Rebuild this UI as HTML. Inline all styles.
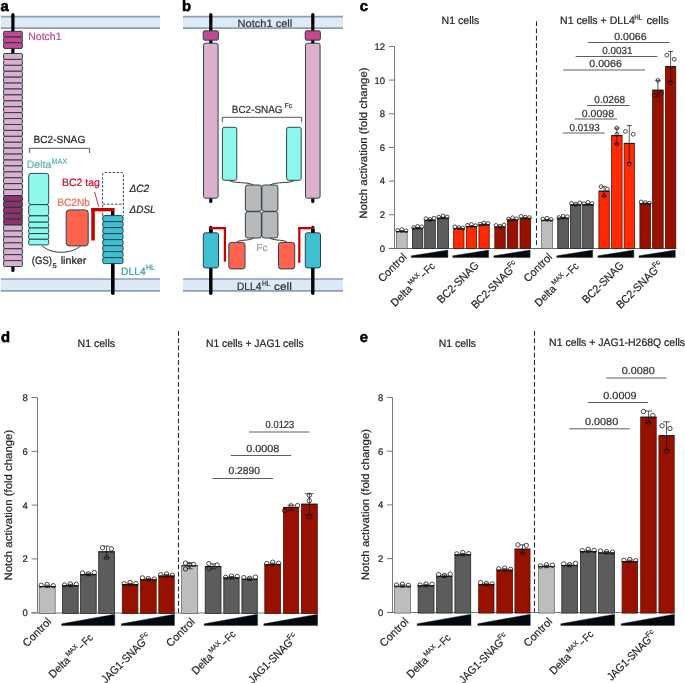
<!DOCTYPE html>
<html><head><meta charset="utf-8"><title>Figure</title>
<style>
html,body{margin:0;padding:0;background:#fff;}
body{width:685px;height:683px;overflow:hidden;}
svg{display:block;font-family:"Liberation Sans", sans-serif;will-change:transform;}
text{font-family:"Liberation Sans", sans-serif;text-rendering:geometricPrecision;}
</style></head>
<body>
<svg width="685" height="683" viewBox="0 0 685 683">
<rect x="0" y="0" width="685" height="683" fill="#fff"/>
<text x="0.60" y="11.00" font-size="14.8" fill="#000" text-anchor="start" font-weight="bold" font-style="normal" stroke="#000" stroke-width="0.6">a</text>
<rect x="0.80" y="16.60" width="159.20" height="11.60" rx="0" fill="#dde9f5" stroke="none" stroke-width="1" />
<line x1="0.80" y1="16.60" x2="160.00" y2="16.60" stroke="#8d9db6" stroke-width="1.7" />
<line x1="0.80" y1="28.20" x2="160.00" y2="28.20" stroke="#8d9db6" stroke-width="1.7" />
<rect x="0.80" y="279.00" width="159.20" height="11.90" rx="0" fill="#dde9f5" stroke="none" stroke-width="1" />
<line x1="0.80" y1="279.00" x2="160.00" y2="279.00" stroke="#8d9db6" stroke-width="1.7" />
<line x1="0.80" y1="290.90" x2="160.00" y2="290.90" stroke="#8d9db6" stroke-width="1.7" />
<line x1="12.90" y1="14.50" x2="12.90" y2="270.50" stroke="#000" stroke-width="3.2" stroke-linecap="round"/>
<rect x="3.60" y="31.30" width="18.80" height="5.72" rx="1.2" fill="#c2488f" stroke="#1b3444" stroke-width="0.9" />
<rect x="3.60" y="37.02" width="18.80" height="5.72" rx="1.2" fill="#c2488f" stroke="#1b3444" stroke-width="0.9" />
<rect x="3.60" y="42.74" width="18.80" height="5.72" rx="1.2" fill="#c2488f" stroke="#1b3444" stroke-width="0.9" />
<rect x="3.60" y="53.50" width="18.80" height="5.92" rx="1.2" fill="#dab0cd" stroke="#1b3444" stroke-width="0.9" />
<rect x="3.60" y="59.42" width="18.80" height="5.92" rx="1.2" fill="#dab0cd" stroke="#1b3444" stroke-width="0.9" />
<rect x="3.60" y="65.33" width="18.80" height="5.92" rx="1.2" fill="#dab0cd" stroke="#1b3444" stroke-width="0.9" />
<rect x="3.60" y="71.25" width="18.80" height="5.92" rx="1.2" fill="#dab0cd" stroke="#1b3444" stroke-width="0.9" />
<rect x="3.60" y="77.17" width="18.80" height="5.92" rx="1.2" fill="#dab0cd" stroke="#1b3444" stroke-width="0.9" />
<rect x="3.60" y="83.08" width="18.80" height="5.92" rx="1.2" fill="#dab0cd" stroke="#1b3444" stroke-width="0.9" />
<rect x="3.60" y="89.00" width="18.80" height="5.92" rx="1.2" fill="#dab0cd" stroke="#1b3444" stroke-width="0.9" />
<rect x="3.60" y="94.92" width="18.80" height="5.92" rx="1.2" fill="#dab0cd" stroke="#1b3444" stroke-width="0.9" />
<rect x="3.60" y="100.83" width="18.80" height="5.92" rx="1.2" fill="#dab0cd" stroke="#1b3444" stroke-width="0.9" />
<rect x="3.60" y="106.75" width="18.80" height="5.92" rx="1.2" fill="#dab0cd" stroke="#1b3444" stroke-width="0.9" />
<rect x="3.60" y="112.67" width="18.80" height="5.92" rx="1.2" fill="#dab0cd" stroke="#1b3444" stroke-width="0.9" />
<rect x="3.60" y="118.58" width="18.80" height="5.92" rx="1.2" fill="#dab0cd" stroke="#1b3444" stroke-width="0.9" />
<rect x="3.60" y="124.50" width="18.80" height="5.92" rx="1.2" fill="#dab0cd" stroke="#1b3444" stroke-width="0.9" />
<rect x="3.60" y="130.42" width="18.80" height="5.92" rx="1.2" fill="#dab0cd" stroke="#1b3444" stroke-width="0.9" />
<rect x="3.60" y="136.33" width="18.80" height="5.92" rx="1.2" fill="#dab0cd" stroke="#1b3444" stroke-width="0.9" />
<rect x="3.60" y="142.25" width="18.80" height="5.92" rx="1.2" fill="#dab0cd" stroke="#1b3444" stroke-width="0.9" />
<rect x="3.60" y="148.17" width="18.80" height="5.92" rx="1.2" fill="#dab0cd" stroke="#1b3444" stroke-width="0.9" />
<rect x="3.60" y="154.08" width="18.80" height="5.92" rx="1.2" fill="#dab0cd" stroke="#1b3444" stroke-width="0.9" />
<rect x="3.60" y="160.00" width="18.80" height="5.92" rx="1.2" fill="#dab0cd" stroke="#1b3444" stroke-width="0.9" />
<rect x="3.60" y="165.92" width="18.80" height="5.92" rx="1.2" fill="#dab0cd" stroke="#1b3444" stroke-width="0.9" />
<rect x="3.60" y="171.83" width="18.80" height="5.92" rx="1.2" fill="#dab0cd" stroke="#1b3444" stroke-width="0.9" />
<rect x="3.60" y="177.75" width="18.80" height="5.92" rx="1.2" fill="#dab0cd" stroke="#1b3444" stroke-width="0.9" />
<rect x="3.60" y="183.67" width="18.80" height="5.92" rx="1.2" fill="#dab0cd" stroke="#1b3444" stroke-width="0.9" />
<rect x="3.60" y="189.58" width="18.80" height="5.92" rx="1.2" fill="#dab0cd" stroke="#1b3444" stroke-width="0.9" />
<rect x="3.60" y="195.50" width="18.80" height="5.92" rx="1.2" fill="#8c3369" stroke="#1b3444" stroke-width="0.9" />
<rect x="3.60" y="201.42" width="18.80" height="5.92" rx="1.2" fill="#8c3369" stroke="#1b3444" stroke-width="0.9" />
<rect x="3.60" y="207.33" width="18.80" height="5.92" rx="1.2" fill="#8c3369" stroke="#1b3444" stroke-width="0.9" />
<rect x="3.60" y="213.25" width="18.80" height="5.92" rx="1.2" fill="#8c3369" stroke="#1b3444" stroke-width="0.9" />
<rect x="3.60" y="219.17" width="18.80" height="5.92" rx="1.2" fill="#8c3369" stroke="#1b3444" stroke-width="0.9" />
<rect x="3.60" y="225.08" width="18.80" height="5.92" rx="1.2" fill="#dab0cd" stroke="#1b3444" stroke-width="0.9" />
<rect x="3.60" y="231.00" width="18.80" height="5.92" rx="1.2" fill="#dab0cd" stroke="#1b3444" stroke-width="0.9" />
<rect x="3.60" y="236.92" width="18.80" height="5.92" rx="1.2" fill="#dab0cd" stroke="#1b3444" stroke-width="0.9" />
<rect x="3.60" y="242.83" width="18.80" height="5.92" rx="1.2" fill="#dab0cd" stroke="#1b3444" stroke-width="0.9" />
<rect x="3.60" y="248.75" width="18.80" height="5.92" rx="1.2" fill="#dab0cd" stroke="#1b3444" stroke-width="0.9" />
<rect x="3.60" y="254.67" width="18.80" height="5.92" rx="1.2" fill="#dab0cd" stroke="#1b3444" stroke-width="0.9" />
<rect x="3.60" y="260.58" width="18.80" height="5.92" rx="1.2" fill="#dab0cd" stroke="#1b3444" stroke-width="0.9" />
<text x="28.30" y="39.80" font-size="10.6" fill="#c2488f" text-anchor="start" font-weight="normal" font-style="normal" textLength="33.20" lengthAdjust="spacingAndGlyphs"  stroke="#c2488f" stroke-width="0.22">Notch1</text>
<text x="33.40" y="142.60" font-size="10.4" fill="#231f20" text-anchor="start" font-weight="normal" font-style="normal" textLength="51.90" lengthAdjust="spacingAndGlyphs"  stroke="#231f20" stroke-width="0.22">BC2-SNAG</text>
<path d="M29.4 153 V148.3 H89.6 V153" fill="none" stroke="#444" stroke-width="0.9"/>
<text x="26.80" y="167.70" font-size="10.6" fill="#5ab5ab" text-anchor="start" font-weight="normal" font-style="normal" textLength="24.40" lengthAdjust="spacingAndGlyphs"  stroke="#5ab5ab" stroke-width="0.22">Delta</text>
<text x="51.60" y="163.70" font-size="8.0" fill="#5ab5ab" text-anchor="start" font-weight="normal" font-style="normal" textLength="15.60" lengthAdjust="spacingAndGlyphs"  stroke="#5ab5ab" stroke-width="0.22">MAX</text>
<rect x="28.70" y="173.40" width="20.00" height="31.20" rx="2.4" fill="#8ef8ec" stroke="#1b3444" stroke-width="0.9" />
<rect x="28.70" y="204.60" width="20.00" height="11.30" rx="2.4" fill="#8ef8ec" stroke="#1b3444" stroke-width="0.9" />
<rect x="28.70" y="215.90" width="20.00" height="6.30" rx="1.4" fill="#8ef8ec" stroke="#1b3444" stroke-width="0.9" />
<rect x="28.70" y="222.20" width="20.00" height="5.80" rx="1.4" fill="#8ef8ec" stroke="#1b3444" stroke-width="0.9" />
<rect x="28.70" y="228.00" width="20.00" height="5.60" rx="1.4" fill="#8ef8ec" stroke="#1b3444" stroke-width="0.9" />
<rect x="28.70" y="233.60" width="20.00" height="5.70" rx="1.4" fill="#8ef8ec" stroke="#1b3444" stroke-width="0.9" />
<rect x="28.70" y="239.30" width="20.00" height="5.60" rx="1.4" fill="#8ef8ec" stroke="#1b3444" stroke-width="0.9" />
<path d="M42 245.5 C50 254, 70 255, 80.8 245.8" fill="none" stroke="#222" stroke-width="0.9"/>
<rect x="66.20" y="209.90" width="22.00" height="36.00" rx="3" fill="#fd6450" stroke="#1b3444" stroke-width="0.9" />
<text x="31.80" y="263.60" font-size="10.6" fill="#231f20" text-anchor="start" font-weight="normal" font-style="normal" textLength="20.20" lengthAdjust="spacingAndGlyphs"  stroke="#231f20" stroke-width="0.22">(GS)</text>
<text x="52.60" y="268.20" font-size="7.0" fill="#231f20" text-anchor="start" font-weight="normal" font-style="normal" textLength="4.20" lengthAdjust="spacingAndGlyphs"  stroke="#231f20" stroke-width="0.22">5</text>
<text x="60.70" y="263.60" font-size="10.6" fill="#231f20" text-anchor="start" font-weight="normal" font-style="normal" textLength="25.60" lengthAdjust="spacingAndGlyphs"  stroke="#231f20" stroke-width="0.22">linker</text>
<text x="61.90" y="186.00" font-size="10.6" fill="#c8102e" text-anchor="start" font-weight="normal" font-style="normal" textLength="38.00" lengthAdjust="spacingAndGlyphs"  stroke="#c8102e" stroke-width="0.22">BC2 tag</text>
<text x="57.20" y="205.60" font-size="10.6" fill="#f86a58" text-anchor="start" font-weight="normal" font-style="normal" textLength="32.80" lengthAdjust="spacingAndGlyphs"  stroke="#f86a58" stroke-width="0.22">BC2Nb</text>
<line x1="94.60" y1="192.00" x2="98.80" y2="206.80" stroke="#c8102e" stroke-width="0.9" />
<path d="M102.6 215.5 V175 Q102.6 172.5 105 172.5 H121 Q123.4 172.5 123.4 175 V215.5" fill="none" stroke="#1b3444" stroke-width="0.9" stroke-dasharray="2.4 1.6"/>
<path d="M103 204.2 H123" fill="none" stroke="#1b3444" stroke-width="0.9" stroke-dasharray="2.4 1.6"/>
<text x="129.60" y="191.70" font-size="10.6" fill="#231f20" text-anchor="start" font-weight="normal" font-style="italic" textLength="19.60" lengthAdjust="spacingAndGlyphs"  stroke="#231f20" stroke-width="0.22">&#916;C2</text>
<text x="129.60" y="213.00" font-size="10.6" fill="#231f20" text-anchor="start" font-weight="normal" font-style="italic" textLength="26.00" lengthAdjust="spacingAndGlyphs"  stroke="#231f20" stroke-width="0.22">&#916;DSL</text>
<rect x="91.30" y="208.00" width="23.30" height="3.30" rx="0" fill="#c80000" stroke="none" stroke-width="1" />
<rect x="91.30" y="208.00" width="3.50" height="32.50" rx="0" fill="#c80000" stroke="none" stroke-width="1" />
<rect x="111.00" y="211.00" width="3.40" height="4.80" rx="0" fill="#000" stroke="none" stroke-width="1" />
<line x1="112.80" y1="262.00" x2="112.80" y2="293.20" stroke="#000" stroke-width="3.6" stroke-linecap="round"/>
<rect x="102.80" y="215.60" width="20.20" height="6.00" rx="1.5" fill="#3fbfcf" stroke="#1b3444" stroke-width="0.9" />
<rect x="102.80" y="221.60" width="20.20" height="6.00" rx="1.5" fill="#3fbfcf" stroke="#1b3444" stroke-width="0.9" />
<rect x="102.80" y="227.60" width="20.20" height="6.00" rx="1.5" fill="#3fbfcf" stroke="#1b3444" stroke-width="0.9" />
<rect x="102.80" y="233.60" width="20.20" height="6.00" rx="1.5" fill="#3fbfcf" stroke="#1b3444" stroke-width="0.9" />
<rect x="102.80" y="239.60" width="20.20" height="6.00" rx="1.5" fill="#3fbfcf" stroke="#1b3444" stroke-width="0.9" />
<rect x="102.80" y="245.60" width="20.20" height="6.00" rx="1.5" fill="#3fbfcf" stroke="#1b3444" stroke-width="0.9" />
<rect x="102.80" y="251.60" width="20.20" height="6.00" rx="1.5" fill="#3fbfcf" stroke="#1b3444" stroke-width="0.9" />
<rect x="102.80" y="257.60" width="20.20" height="6.00" rx="1.5" fill="#3fbfcf" stroke="#1b3444" stroke-width="0.9" />
<text x="121.10" y="274.70" font-size="10.6" fill="#3a9aa8" text-anchor="start" font-weight="normal" font-style="normal" textLength="24.60" lengthAdjust="spacingAndGlyphs"  stroke="#3a9aa8" stroke-width="0.22">DLL4</text>
<text x="145.90" y="270.00" font-size="7.8" fill="#3a9aa8" text-anchor="start" font-weight="normal" font-style="normal" textLength="9.00" lengthAdjust="spacingAndGlyphs"  stroke="#3a9aa8" stroke-width="0.22">HL</text>
<text x="182.00" y="11.00" font-size="14.8" fill="#000" text-anchor="start" font-weight="bold" font-style="normal" stroke="#000" stroke-width="0.6">b</text>
<rect x="183.00" y="16.60" width="160.00" height="11.60" rx="0" fill="#dde9f5" stroke="none" stroke-width="1" />
<line x1="183.00" y1="16.60" x2="343.00" y2="16.60" stroke="#8d9db6" stroke-width="1.7" />
<line x1="183.00" y1="28.20" x2="343.00" y2="28.20" stroke="#8d9db6" stroke-width="1.7" />
<rect x="183.00" y="279.00" width="160.00" height="11.90" rx="0" fill="#dde9f5" stroke="none" stroke-width="1" />
<line x1="183.00" y1="279.00" x2="343.00" y2="279.00" stroke="#8d9db6" stroke-width="1.7" />
<line x1="183.00" y1="290.90" x2="343.00" y2="290.90" stroke="#8d9db6" stroke-width="1.7" />
<text x="237.60" y="26.50" font-size="10.6" fill="#333" text-anchor="start" font-weight="normal" font-style="normal" textLength="54.60" lengthAdjust="spacingAndGlyphs"  stroke="#333" stroke-width="0.22">Notch1 cell</text>
<line x1="210.80" y1="14.50" x2="210.80" y2="201.50" stroke="#000" stroke-width="3.2" stroke-linecap="round"/>
<rect x="203.20" y="30.80" width="15.20" height="9.40" rx="1.6" fill="#c2488f" stroke="#1b3444" stroke-width="0.9" />
<rect x="203.50" y="43.20" width="14.60" height="155.00" rx="2" fill="#dab0cd" stroke="#1b3444" stroke-width="0.9" />
<line x1="312.80" y1="14.50" x2="312.80" y2="201.50" stroke="#000" stroke-width="3.2" stroke-linecap="round"/>
<rect x="305.20" y="30.80" width="15.20" height="9.40" rx="1.6" fill="#c2488f" stroke="#1b3444" stroke-width="0.9" />
<rect x="305.50" y="43.20" width="14.60" height="155.00" rx="2" fill="#dab0cd" stroke="#1b3444" stroke-width="0.9" />
<text x="231.80" y="112.50" font-size="10.4" fill="#333" text-anchor="start" font-weight="normal" font-style="normal" textLength="50.80" lengthAdjust="spacingAndGlyphs"  stroke="#333" stroke-width="0.22">BC2-SNAG</text>
<text x="284.40" y="108.00" font-size="7.2" fill="#333" text-anchor="start" font-weight="normal" font-style="normal" textLength="7.80" lengthAdjust="spacingAndGlyphs"  stroke="#333" stroke-width="0.22">Fc</text>
<path d="M222.4 122.3 V117.3 H301.6 V122.3" fill="none" stroke="#444" stroke-width="0.9"/>
<rect x="222.40" y="127.30" width="14.40" height="53.00" rx="2" fill="#8ef8ec" stroke="#1b3444" stroke-width="0.9" />
<rect x="286.60" y="127.30" width="14.60" height="53.00" rx="2" fill="#8ef8ec" stroke="#1b3444" stroke-width="0.9" />
<path d="M229.5 180.3 C231 183.5, 249 181.5, 253.5 185.2" fill="none" stroke="#222" stroke-width="0.9"/>
<path d="M294 180.3 C292.5 183.5, 274.5 181.5, 270 185.2" fill="none" stroke="#222" stroke-width="0.9"/>
<rect x="245.40" y="185.00" width="16.00" height="26.30" rx="2.4" fill="#b9b9b9" stroke="#1b3444" stroke-width="0.9" />
<rect x="245.40" y="211.70" width="16.00" height="26.30" rx="2.4" fill="#b9b9b9" stroke="#1b3444" stroke-width="0.9" />
<rect x="261.90" y="185.00" width="16.00" height="26.30" rx="2.4" fill="#b9b9b9" stroke="#1b3444" stroke-width="0.9" />
<rect x="261.90" y="211.70" width="16.00" height="26.30" rx="2.4" fill="#b9b9b9" stroke="#1b3444" stroke-width="0.9" />
<path d="M253.5 238.2 C249 241, 238 239.5, 236.5 242.4" fill="none" stroke="#222" stroke-width="0.9"/>
<path d="M270 238.2 C274.5 241, 285.5 239.5, 287 242.4" fill="none" stroke="#222" stroke-width="0.9"/>
<line x1="210.80" y1="227.40" x2="210.80" y2="293.20" stroke="#000" stroke-width="3.4" stroke-linecap="round"/>
<rect x="203.30" y="232.80" width="15.20" height="35.10" rx="2" fill="#3fbfcf" stroke="#1b3444" stroke-width="0.9" />
<line x1="312.80" y1="227.40" x2="312.80" y2="293.20" stroke="#000" stroke-width="3.4" stroke-linecap="round"/>
<rect x="305.30" y="232.80" width="15.20" height="35.10" rx="2" fill="#3fbfcf" stroke="#1b3444" stroke-width="0.9" />
<rect x="209.30" y="227.00" width="16.40" height="2.30" rx="0" fill="#c80000" stroke="none" stroke-width="1" />
<rect x="223.80" y="227.00" width="2.20" height="34.70" rx="0" fill="#c80000" stroke="none" stroke-width="1" />
<rect x="298.20" y="227.00" width="15.80" height="2.30" rx="0" fill="#c80000" stroke="none" stroke-width="1" />
<rect x="298.20" y="227.00" width="2.20" height="35.80" rx="0" fill="#c80000" stroke="none" stroke-width="1" />
<rect x="209.10" y="229.20" width="3.40" height="3.60" rx="0" fill="#000" stroke="none" stroke-width="1" />
<rect x="311.10" y="229.20" width="3.40" height="3.60" rx="0" fill="#000" stroke="none" stroke-width="1" />
<rect x="228.80" y="242.40" width="16.20" height="26.50" rx="2.4" fill="#fd6450" stroke="#1b3444" stroke-width="0.9" />
<rect x="278.50" y="242.40" width="16.20" height="26.50" rx="2.4" fill="#fd6450" stroke="#1b3444" stroke-width="0.9" />
<text x="256.30" y="251.00" font-size="10.0" fill="#9a9a9a" text-anchor="start" font-weight="normal" font-style="normal" textLength="11.20" lengthAdjust="spacingAndGlyphs"  stroke="#9a9a9a" stroke-width="0.22">Fc</text>
<text x="237.00" y="290.30" font-size="10.6" fill="#333" text-anchor="start" font-weight="normal" font-style="normal" textLength="24.40" lengthAdjust="spacingAndGlyphs"  stroke="#333" stroke-width="0.22">DLL4</text>
<text x="262.00" y="285.50" font-size="7.6" fill="#333" text-anchor="start" font-weight="normal" font-style="normal" textLength="8.40" lengthAdjust="spacingAndGlyphs"  stroke="#333" stroke-width="0.22">HL</text>
<text x="274.00" y="290.00" font-size="10.6" fill="#333" text-anchor="start" font-weight="normal" font-style="normal" textLength="17.80" lengthAdjust="spacingAndGlyphs"  stroke="#333" stroke-width="0.22">cell</text>
<text x="359.80" y="11.20" font-size="14.8" fill="#000" text-anchor="start" font-weight="bold" font-style="normal" stroke="#000" stroke-width="0.6">c</text>
<line x1="394.50" y1="46.44" x2="394.50" y2="248.40" stroke="#777" stroke-width="1.0" />
<line x1="388.80" y1="248.40" x2="394.50" y2="248.40" stroke="#777" stroke-width="1.0" />
<text x="385.00" y="251.80" font-size="9.5" fill="#2a2a2a" text-anchor="end" font-weight="normal" font-style="normal"  stroke="#2a2a2a" stroke-width="0.22">0</text>
<line x1="388.80" y1="214.74" x2="394.50" y2="214.74" stroke="#777" stroke-width="1.0" />
<text x="385.00" y="218.14" font-size="9.5" fill="#2a2a2a" text-anchor="end" font-weight="normal" font-style="normal"  stroke="#2a2a2a" stroke-width="0.22">2</text>
<line x1="388.80" y1="181.08" x2="394.50" y2="181.08" stroke="#777" stroke-width="1.0" />
<text x="385.00" y="184.48" font-size="9.5" fill="#2a2a2a" text-anchor="end" font-weight="normal" font-style="normal"  stroke="#2a2a2a" stroke-width="0.22">4</text>
<line x1="388.80" y1="147.42" x2="394.50" y2="147.42" stroke="#777" stroke-width="1.0" />
<text x="385.00" y="150.82" font-size="9.5" fill="#2a2a2a" text-anchor="end" font-weight="normal" font-style="normal"  stroke="#2a2a2a" stroke-width="0.22">6</text>
<line x1="388.80" y1="113.76" x2="394.50" y2="113.76" stroke="#777" stroke-width="1.0" />
<text x="385.00" y="117.16" font-size="9.5" fill="#2a2a2a" text-anchor="end" font-weight="normal" font-style="normal"  stroke="#2a2a2a" stroke-width="0.22">8</text>
<line x1="388.80" y1="80.10" x2="394.50" y2="80.10" stroke="#777" stroke-width="1.0" />
<text x="385.00" y="83.50" font-size="9.5" fill="#2a2a2a" text-anchor="end" font-weight="normal" font-style="normal"  stroke="#2a2a2a" stroke-width="0.22">10</text>
<line x1="388.80" y1="46.44" x2="394.50" y2="46.44" stroke="#777" stroke-width="1.0" />
<text x="385.00" y="49.84" font-size="9.5" fill="#2a2a2a" text-anchor="end" font-weight="normal" font-style="normal"  stroke="#2a2a2a" stroke-width="0.22">12</text>
<text transform="translate(367.10,143.10) rotate(-90)" x="0" y="0" font-size="10.8" fill="#231f20" stroke="#231f20" stroke-width="0.2" text-anchor="middle" textLength="151.30" lengthAdjust="spacingAndGlyphs">Notch activation (fold change)</text>
<line x1="389.30" y1="248.50" x2="676.20" y2="248.50" stroke="#6a6a6a" stroke-width="1.0" />
<line x1="536.50" y1="21.20" x2="536.50" y2="245.20" stroke="#2a2a2a" stroke-width="1.1" stroke-dasharray="4.8 2.5"/>
<text x="460.40" y="24.10" font-size="10.9" fill="#231f20" text-anchor="middle" font-weight="normal" font-style="normal" textLength="37.60" lengthAdjust="spacingAndGlyphs"  stroke="#231f20" stroke-width="0.22">N1 cells</text>
<text x="560.10" y="24.30" font-size="10.9" fill="#231f20" text-anchor="start" font-weight="normal" font-style="normal" textLength="74.80" lengthAdjust="spacingAndGlyphs"  stroke="#231f20" stroke-width="0.22">N1 cells + DLL4</text>
<text x="634.30" y="19.80" font-size="7.6" fill="#231f20" text-anchor="start" font-weight="normal" font-style="normal" textLength="7.90" lengthAdjust="spacingAndGlyphs"  stroke="#231f20" stroke-width="0.22">HL</text>
<text x="646.40" y="24.30" font-size="10.9" fill="#231f20" text-anchor="start" font-weight="normal" font-style="normal" textLength="22.40" lengthAdjust="spacingAndGlyphs"  stroke="#231f20" stroke-width="0.22">cells</text>
<rect x="396.40" y="231.57" width="10.80" height="16.83" rx="0" fill="#bdbdbd" stroke="#6a6a6a" stroke-width="0.8" />
<line x1="396.20" y1="231.57" x2="407.40" y2="231.57" stroke="#111" stroke-width="0.9" />
<rect x="412.40" y="228.20" width="10.40" height="20.20" rx="0" fill="#5c5c5c" stroke="#262626" stroke-width="0.8" />
<line x1="412.20" y1="228.20" x2="423.00" y2="228.20" stroke="#111" stroke-width="0.9" />
<rect x="424.70" y="220.29" width="10.60" height="28.11" rx="0" fill="#5c5c5c" stroke="#262626" stroke-width="0.8" />
<line x1="424.50" y1="220.29" x2="435.50" y2="220.29" stroke="#111" stroke-width="0.9" />
<rect x="437.60" y="218.11" width="10.80" height="30.29" rx="0" fill="#5c5c5c" stroke="#262626" stroke-width="0.8" />
<line x1="437.40" y1="218.11" x2="448.60" y2="218.11" stroke="#111" stroke-width="0.9" />
<rect x="453.70" y="228.71" width="10.30" height="19.69" rx="0" fill="#ff2a00" stroke="#5a1008" stroke-width="0.8" />
<line x1="453.50" y1="228.71" x2="464.20" y2="228.71" stroke="#111" stroke-width="0.9" />
<rect x="466.30" y="226.52" width="10.30" height="21.88" rx="0" fill="#ff2a00" stroke="#5a1008" stroke-width="0.8" />
<line x1="466.10" y1="226.52" x2="476.80" y2="226.52" stroke="#111" stroke-width="0.9" />
<rect x="478.90" y="224.84" width="10.30" height="23.56" rx="0" fill="#ff2a00" stroke="#5a1008" stroke-width="0.8" />
<line x1="478.70" y1="224.84" x2="489.40" y2="224.84" stroke="#111" stroke-width="0.9" />
<rect x="494.80" y="227.03" width="10.40" height="21.37" rx="0" fill="#961100" stroke="#5a1008" stroke-width="0.8" />
<line x1="494.60" y1="227.03" x2="505.40" y2="227.03" stroke="#111" stroke-width="0.9" />
<rect x="507.40" y="219.96" width="10.40" height="28.44" rx="0" fill="#961100" stroke="#5a1008" stroke-width="0.8" />
<line x1="507.20" y1="219.96" x2="518.00" y2="219.96" stroke="#111" stroke-width="0.9" />
<rect x="520.00" y="218.27" width="10.60" height="30.13" rx="0" fill="#961100" stroke="#5a1008" stroke-width="0.8" />
<line x1="519.80" y1="218.27" x2="530.80" y2="218.27" stroke="#111" stroke-width="0.9" />
<rect x="541.60" y="220.29" width="10.80" height="28.11" rx="0" fill="#bdbdbd" stroke="#6a6a6a" stroke-width="0.8" />
<line x1="541.40" y1="220.29" x2="552.60" y2="220.29" stroke="#111" stroke-width="0.9" />
<rect x="557.70" y="218.11" width="10.80" height="30.29" rx="0" fill="#5c5c5c" stroke="#262626" stroke-width="0.8" />
<line x1="557.50" y1="218.11" x2="568.70" y2="218.11" stroke="#111" stroke-width="0.9" />
<rect x="570.40" y="204.98" width="10.50" height="43.42" rx="0" fill="#5c5c5c" stroke="#262626" stroke-width="0.8" />
<line x1="570.20" y1="204.98" x2="581.10" y2="204.98" stroke="#111" stroke-width="0.9" />
<rect x="582.70" y="204.64" width="10.50" height="43.76" rx="0" fill="#5c5c5c" stroke="#262626" stroke-width="0.8" />
<line x1="582.50" y1="204.64" x2="593.40" y2="204.64" stroke="#111" stroke-width="0.9" />
<rect x="598.90" y="191.18" width="10.40" height="57.22" rx="0" fill="#ff2a00" stroke="#5a1008" stroke-width="0.8" />
<line x1="598.70" y1="191.18" x2="609.50" y2="191.18" stroke="#111" stroke-width="0.9" />
<rect x="611.60" y="135.64" width="10.50" height="112.76" rx="0" fill="#ff2a00" stroke="#5a1008" stroke-width="0.8" />
<line x1="611.40" y1="135.64" x2="622.30" y2="135.64" stroke="#111" stroke-width="0.9" />
<rect x="624.10" y="143.38" width="10.30" height="105.02" rx="0" fill="#ff2a00" stroke="#5a1008" stroke-width="0.8" />
<line x1="623.90" y1="143.38" x2="634.60" y2="143.38" stroke="#111" stroke-width="0.9" />
<rect x="639.90" y="203.80" width="10.70" height="44.60" rx="0" fill="#961100" stroke="#5a1008" stroke-width="0.8" />
<line x1="639.70" y1="203.80" x2="650.80" y2="203.80" stroke="#111" stroke-width="0.9" />
<rect x="652.60" y="90.20" width="10.60" height="158.20" rx="0" fill="#961100" stroke="#5a1008" stroke-width="0.8" />
<line x1="652.40" y1="90.20" x2="663.40" y2="90.20" stroke="#111" stroke-width="0.9" />
<rect x="665.40" y="66.64" width="10.40" height="181.76" rx="0" fill="#961100" stroke="#5a1008" stroke-width="0.8" />
<line x1="665.20" y1="66.64" x2="676.00" y2="66.64" stroke="#111" stroke-width="0.9" />
<circle cx="397.62" cy="230.37" r="1.9" fill="none" stroke="#111" stroke-width="0.75"/>
<circle cx="401.80" cy="229.57" r="1.9" fill="none" stroke="#111" stroke-width="0.75"/>
<circle cx="405.98" cy="230.77" r="1.9" fill="none" stroke="#111" stroke-width="0.75"/>
<line x1="401.80" y1="230.73" x2="401.80" y2="232.24" stroke="#111" stroke-width="0.7" />
<line x1="399.83" y1="230.73" x2="403.77" y2="230.73" stroke="#111" stroke-width="0.7" />
<line x1="399.83" y1="232.24" x2="403.77" y2="232.24" stroke="#111" stroke-width="0.7" />
<circle cx="413.57" cy="227.60" r="1.9" fill="none" stroke="#111" stroke-width="0.75"/>
<circle cx="417.60" cy="226.40" r="1.9" fill="none" stroke="#111" stroke-width="0.75"/>
<circle cx="421.63" cy="226.80" r="1.9" fill="none" stroke="#111" stroke-width="0.75"/>
<line x1="417.60" y1="227.36" x2="417.60" y2="228.88" stroke="#111" stroke-width="0.7" />
<line x1="415.70" y1="227.36" x2="419.50" y2="227.36" stroke="#111" stroke-width="0.7" />
<line x1="415.70" y1="228.88" x2="419.50" y2="228.88" stroke="#111" stroke-width="0.7" />
<circle cx="425.90" cy="218.69" r="1.9" fill="none" stroke="#111" stroke-width="0.75"/>
<circle cx="430.00" cy="219.39" r="1.9" fill="none" stroke="#111" stroke-width="0.75"/>
<circle cx="434.10" cy="218.19" r="1.9" fill="none" stroke="#111" stroke-width="0.75"/>
<line x1="430.00" y1="219.45" x2="430.00" y2="220.97" stroke="#111" stroke-width="0.7" />
<line x1="428.06" y1="219.45" x2="431.94" y2="219.45" stroke="#111" stroke-width="0.7" />
<line x1="428.06" y1="220.97" x2="431.94" y2="220.97" stroke="#111" stroke-width="0.7" />
<circle cx="438.82" cy="217.21" r="1.9" fill="none" stroke="#111" stroke-width="0.75"/>
<circle cx="443.00" cy="215.91" r="1.9" fill="none" stroke="#111" stroke-width="0.75"/>
<circle cx="447.18" cy="217.01" r="1.9" fill="none" stroke="#111" stroke-width="0.75"/>
<line x1="443.00" y1="217.26" x2="443.00" y2="218.78" stroke="#111" stroke-width="0.7" />
<line x1="441.03" y1="217.26" x2="444.97" y2="217.26" stroke="#111" stroke-width="0.7" />
<line x1="441.03" y1="218.78" x2="444.97" y2="218.78" stroke="#111" stroke-width="0.7" />
<circle cx="454.85" cy="226.81" r="1.9" fill="none" stroke="#111" stroke-width="0.75"/>
<circle cx="458.85" cy="227.51" r="1.9" fill="none" stroke="#111" stroke-width="0.75"/>
<circle cx="462.85" cy="228.01" r="1.9" fill="none" stroke="#111" stroke-width="0.75"/>
<line x1="458.85" y1="227.87" x2="458.85" y2="229.38" stroke="#111" stroke-width="0.7" />
<line x1="456.96" y1="227.87" x2="460.74" y2="227.87" stroke="#111" stroke-width="0.7" />
<line x1="456.96" y1="229.38" x2="460.74" y2="229.38" stroke="#111" stroke-width="0.7" />
<circle cx="467.45" cy="225.32" r="1.9" fill="none" stroke="#111" stroke-width="0.75"/>
<circle cx="471.45" cy="224.52" r="1.9" fill="none" stroke="#111" stroke-width="0.75"/>
<circle cx="475.45" cy="225.72" r="1.9" fill="none" stroke="#111" stroke-width="0.75"/>
<line x1="471.45" y1="225.68" x2="471.45" y2="227.19" stroke="#111" stroke-width="0.7" />
<line x1="469.56" y1="225.68" x2="473.34" y2="225.68" stroke="#111" stroke-width="0.7" />
<line x1="469.56" y1="227.19" x2="473.34" y2="227.19" stroke="#111" stroke-width="0.7" />
<circle cx="480.05" cy="224.24" r="1.9" fill="none" stroke="#111" stroke-width="0.75"/>
<circle cx="484.05" cy="223.04" r="1.9" fill="none" stroke="#111" stroke-width="0.75"/>
<circle cx="488.05" cy="223.44" r="1.9" fill="none" stroke="#111" stroke-width="0.75"/>
<line x1="484.05" y1="224.00" x2="484.05" y2="225.51" stroke="#111" stroke-width="0.7" />
<line x1="482.16" y1="224.00" x2="485.94" y2="224.00" stroke="#111" stroke-width="0.7" />
<line x1="482.16" y1="225.51" x2="485.94" y2="225.51" stroke="#111" stroke-width="0.7" />
<circle cx="495.97" cy="225.43" r="1.9" fill="none" stroke="#111" stroke-width="0.75"/>
<circle cx="500.00" cy="226.13" r="1.9" fill="none" stroke="#111" stroke-width="0.75"/>
<circle cx="504.03" cy="224.93" r="1.9" fill="none" stroke="#111" stroke-width="0.75"/>
<line x1="500.00" y1="226.18" x2="500.00" y2="227.70" stroke="#111" stroke-width="0.7" />
<line x1="498.10" y1="226.18" x2="501.90" y2="226.18" stroke="#111" stroke-width="0.7" />
<line x1="498.10" y1="227.70" x2="501.90" y2="227.70" stroke="#111" stroke-width="0.7" />
<circle cx="508.57" cy="219.06" r="1.9" fill="none" stroke="#111" stroke-width="0.75"/>
<circle cx="512.60" cy="217.76" r="1.9" fill="none" stroke="#111" stroke-width="0.75"/>
<circle cx="516.63" cy="218.86" r="1.9" fill="none" stroke="#111" stroke-width="0.75"/>
<line x1="512.60" y1="219.12" x2="512.60" y2="220.63" stroke="#111" stroke-width="0.7" />
<line x1="510.70" y1="219.12" x2="514.50" y2="219.12" stroke="#111" stroke-width="0.7" />
<line x1="510.70" y1="220.63" x2="514.50" y2="220.63" stroke="#111" stroke-width="0.7" />
<circle cx="521.20" cy="216.37" r="1.9" fill="none" stroke="#111" stroke-width="0.75"/>
<circle cx="525.30" cy="217.07" r="1.9" fill="none" stroke="#111" stroke-width="0.75"/>
<circle cx="529.40" cy="217.57" r="1.9" fill="none" stroke="#111" stroke-width="0.75"/>
<line x1="525.30" y1="217.43" x2="525.30" y2="218.95" stroke="#111" stroke-width="0.7" />
<line x1="523.36" y1="217.43" x2="527.24" y2="217.43" stroke="#111" stroke-width="0.7" />
<line x1="523.36" y1="218.95" x2="527.24" y2="218.95" stroke="#111" stroke-width="0.7" />
<circle cx="542.82" cy="219.09" r="1.9" fill="none" stroke="#111" stroke-width="0.75"/>
<circle cx="547.00" cy="218.29" r="1.9" fill="none" stroke="#111" stroke-width="0.75"/>
<circle cx="551.18" cy="219.49" r="1.9" fill="none" stroke="#111" stroke-width="0.75"/>
<line x1="547.00" y1="219.45" x2="547.00" y2="220.97" stroke="#111" stroke-width="0.7" />
<line x1="545.03" y1="219.45" x2="548.97" y2="219.45" stroke="#111" stroke-width="0.7" />
<line x1="545.03" y1="220.97" x2="548.97" y2="220.97" stroke="#111" stroke-width="0.7" />
<circle cx="558.92" cy="217.51" r="1.9" fill="none" stroke="#111" stroke-width="0.75"/>
<circle cx="563.10" cy="216.31" r="1.9" fill="none" stroke="#111" stroke-width="0.75"/>
<circle cx="567.28" cy="216.71" r="1.9" fill="none" stroke="#111" stroke-width="0.75"/>
<line x1="563.10" y1="217.26" x2="563.10" y2="218.78" stroke="#111" stroke-width="0.7" />
<line x1="561.13" y1="217.26" x2="565.07" y2="217.26" stroke="#111" stroke-width="0.7" />
<line x1="561.13" y1="218.78" x2="565.07" y2="218.78" stroke="#111" stroke-width="0.7" />
<circle cx="571.58" cy="203.38" r="1.9" fill="none" stroke="#111" stroke-width="0.75"/>
<circle cx="575.65" cy="204.08" r="1.9" fill="none" stroke="#111" stroke-width="0.75"/>
<circle cx="579.72" cy="202.88" r="1.9" fill="none" stroke="#111" stroke-width="0.75"/>
<line x1="575.65" y1="204.14" x2="575.65" y2="205.65" stroke="#111" stroke-width="0.7" />
<line x1="573.73" y1="204.14" x2="577.57" y2="204.14" stroke="#111" stroke-width="0.7" />
<line x1="573.73" y1="205.65" x2="577.57" y2="205.65" stroke="#111" stroke-width="0.7" />
<circle cx="583.88" cy="203.74" r="1.9" fill="none" stroke="#111" stroke-width="0.75"/>
<circle cx="587.95" cy="202.44" r="1.9" fill="none" stroke="#111" stroke-width="0.75"/>
<circle cx="592.02" cy="203.54" r="1.9" fill="none" stroke="#111" stroke-width="0.75"/>
<line x1="587.95" y1="203.80" x2="587.95" y2="205.32" stroke="#111" stroke-width="0.7" />
<line x1="586.03" y1="203.80" x2="589.87" y2="203.80" stroke="#111" stroke-width="0.7" />
<line x1="586.03" y1="205.32" x2="589.87" y2="205.32" stroke="#111" stroke-width="0.7" />
<circle cx="601.10" cy="186.63" r="1.9" fill="none" stroke="#111" stroke-width="0.75"/>
<circle cx="607.40" cy="189.16" r="1.9" fill="none" stroke="#111" stroke-width="0.75"/>
<circle cx="604.10" cy="195.89" r="1.9" fill="none" stroke="#111" stroke-width="0.75"/>
<line x1="604.10" y1="186.63" x2="604.10" y2="196.23" stroke="#111" stroke-width="0.7" />
<line x1="601.60" y1="186.63" x2="606.60" y2="186.63" stroke="#111" stroke-width="0.7" />
<line x1="601.60" y1="196.23" x2="606.60" y2="196.23" stroke="#111" stroke-width="0.7" />
<circle cx="616.85" cy="128.07" r="1.9" fill="none" stroke="#111" stroke-width="0.75"/>
<circle cx="616.85" cy="134.29" r="1.9" fill="none" stroke="#111" stroke-width="0.75"/>
<circle cx="616.85" cy="144.05" r="1.9" fill="none" stroke="#111" stroke-width="0.75"/>
<line x1="616.85" y1="128.07" x2="616.85" y2="144.05" stroke="#111" stroke-width="0.7" />
<line x1="614.35" y1="128.07" x2="619.35" y2="128.07" stroke="#111" stroke-width="0.7" />
<line x1="614.35" y1="144.05" x2="619.35" y2="144.05" stroke="#111" stroke-width="0.7" />
<circle cx="625.45" cy="131.43" r="1.9" fill="none" stroke="#111" stroke-width="0.75"/>
<circle cx="633.25" cy="134.29" r="1.9" fill="none" stroke="#111" stroke-width="0.75"/>
<circle cx="629.25" cy="164.25" r="1.9" fill="none" stroke="#111" stroke-width="0.75"/>
<line x1="629.25" y1="125.54" x2="629.25" y2="162.57" stroke="#111" stroke-width="0.7" />
<line x1="626.75" y1="125.54" x2="631.75" y2="125.54" stroke="#111" stroke-width="0.7" />
<line x1="626.75" y1="162.57" x2="631.75" y2="162.57" stroke="#111" stroke-width="0.7" />
<circle cx="641.11" cy="201.90" r="1.9" fill="none" stroke="#111" stroke-width="0.75"/>
<circle cx="645.25" cy="202.60" r="1.9" fill="none" stroke="#111" stroke-width="0.75"/>
<circle cx="649.39" cy="203.10" r="1.9" fill="none" stroke="#111" stroke-width="0.75"/>
<line x1="645.25" y1="202.96" x2="645.25" y2="204.47" stroke="#111" stroke-width="0.7" />
<line x1="643.29" y1="202.96" x2="647.21" y2="202.96" stroke="#111" stroke-width="0.7" />
<line x1="643.29" y1="204.47" x2="647.21" y2="204.47" stroke="#111" stroke-width="0.7" />
<circle cx="657.90" cy="80.44" r="1.9" fill="none" stroke="#111" stroke-width="0.75"/>
<circle cx="654.70" cy="95.25" r="1.9" fill="none" stroke="#111" stroke-width="0.75"/>
<circle cx="661.30" cy="93.23" r="1.9" fill="none" stroke="#111" stroke-width="0.75"/>
<line x1="657.90" y1="80.44" x2="657.90" y2="96.93" stroke="#111" stroke-width="0.7" />
<line x1="655.40" y1="80.44" x2="660.40" y2="80.44" stroke="#111" stroke-width="0.7" />
<line x1="655.40" y1="96.93" x2="660.40" y2="96.93" stroke="#111" stroke-width="0.7" />
<circle cx="666.80" cy="55.19" r="1.9" fill="none" stroke="#111" stroke-width="0.75"/>
<circle cx="674.20" cy="59.23" r="1.9" fill="none" stroke="#111" stroke-width="0.75"/>
<circle cx="670.60" cy="82.79" r="1.9" fill="none" stroke="#111" stroke-width="0.75"/>
<line x1="670.60" y1="51.49" x2="670.60" y2="81.78" stroke="#111" stroke-width="0.7" />
<line x1="668.10" y1="51.49" x2="673.10" y2="51.49" stroke="#111" stroke-width="0.7" />
<line x1="668.10" y1="81.78" x2="673.10" y2="81.78" stroke="#111" stroke-width="0.7" />
<polygon points="411.30,257.60 447.90,257.60 447.90,250.10 411.30,255.80" fill="#03080c" stroke="#12303e" stroke-width="0.4" stroke-linejoin="round"/>
<polygon points="452.70,257.60 488.70,257.60 488.70,250.10 452.70,255.80" fill="#03080c" stroke="#12303e" stroke-width="0.4" stroke-linejoin="round"/>
<polygon points="493.80,257.60 530.10,257.60 530.10,250.10 493.80,255.80" fill="#03080c" stroke="#12303e" stroke-width="0.4" stroke-linejoin="round"/>
<polygon points="556.70,257.60 592.70,257.60 592.70,250.10 556.70,255.80" fill="#03080c" stroke="#12303e" stroke-width="0.4" stroke-linejoin="round"/>
<polygon points="597.90,257.60 633.90,257.60 633.90,250.10 597.90,255.80" fill="#03080c" stroke="#12303e" stroke-width="0.4" stroke-linejoin="round"/>
<polygon points="638.90,257.60 675.30,257.60 675.30,250.10 638.90,255.80" fill="#03080c" stroke="#12303e" stroke-width="0.4" stroke-linejoin="round"/>
<line x1="587.70" y1="42.50" x2="669.60" y2="42.50" stroke="#5e5e5e" stroke-width="1.0" />
<text x="630.40" y="40.00" font-size="10.2" fill="#333" text-anchor="middle" font-weight="normal" font-style="normal" textLength="32.40" lengthAdjust="spacingAndGlyphs"  stroke="#333" stroke-width="0.22">0.0066</text>
<line x1="575.70" y1="56.50" x2="657.40" y2="56.50" stroke="#5e5e5e" stroke-width="1.0" />
<text x="617.35" y="53.60" font-size="10.2" fill="#333" text-anchor="middle" font-weight="normal" font-style="normal" textLength="30.30" lengthAdjust="spacingAndGlyphs"  stroke="#333" stroke-width="0.22">0.0031</text>
<line x1="563.30" y1="70.00" x2="645.00" y2="70.00" stroke="#5e5e5e" stroke-width="1.0" />
<text x="605.60" y="67.20" font-size="10.2" fill="#333" text-anchor="middle" font-weight="normal" font-style="normal" textLength="32.60" lengthAdjust="spacingAndGlyphs"  stroke="#333" stroke-width="0.22">0.0066</text>
<line x1="587.00" y1="105.50" x2="629.60" y2="105.50" stroke="#5e5e5e" stroke-width="1.0" />
<text x="609.70" y="102.70" font-size="10.2" fill="#333" text-anchor="middle" font-weight="normal" font-style="normal" textLength="30.80" lengthAdjust="spacingAndGlyphs"  stroke="#333" stroke-width="0.22">0.0268</text>
<line x1="574.80" y1="119.00" x2="617.10" y2="119.00" stroke="#5e5e5e" stroke-width="1.0" />
<text x="597.90" y="116.50" font-size="10.2" fill="#333" text-anchor="middle" font-weight="normal" font-style="normal" textLength="32.20" lengthAdjust="spacingAndGlyphs"  stroke="#333" stroke-width="0.22">0.0098</text>
<line x1="562.80" y1="133.00" x2="604.70" y2="133.00" stroke="#5e5e5e" stroke-width="1.0" />
<text x="584.65" y="130.60" font-size="10.2" fill="#333" text-anchor="middle" font-weight="normal" font-style="normal" textLength="30.10" lengthAdjust="spacingAndGlyphs"  stroke="#333" stroke-width="0.22">0.0193</text>
<g transform="translate(407.50,257.70) rotate(-45)" fill="#231f20" stroke="#231f20" stroke-width="0.18"><text x="0.00" y="0.00" font-size="11.0" text-anchor="end">Control</text></g>
<g transform="translate(553.00,257.70) rotate(-45)" fill="#231f20" stroke="#231f20" stroke-width="0.18"><text x="0.00" y="0.00" font-size="11.0" text-anchor="end">Control</text></g>
<g transform="translate(428.70,273.70) rotate(-45)" fill="#231f20" stroke="#231f20" stroke-width="0.18"><text x="-47.50" y="0.00" font-size="11.0" text-anchor="start" textLength="25.00" lengthAdjust="spacingAndGlyphs">Delta</text><text x="-21.30" y="-4.90" font-size="6.6" text-anchor="start" textLength="14.00" lengthAdjust="spacingAndGlyphs">MAX</text><line x1="-6.5" y1="-2.7" x2="-2.0" y2="-2.7" stroke="#231f20" stroke-width="0.95"/><text x="-0.90" y="0.00" font-size="10.6" text-anchor="start" textLength="10.60" lengthAdjust="spacingAndGlyphs">Fc</text></g>
<g transform="translate(572.60,273.70) rotate(-45)" fill="#231f20" stroke="#231f20" stroke-width="0.18"><text x="-47.50" y="0.00" font-size="11.0" text-anchor="start" textLength="25.00" lengthAdjust="spacingAndGlyphs">Delta</text><text x="-21.30" y="-4.90" font-size="6.6" text-anchor="start" textLength="14.00" lengthAdjust="spacingAndGlyphs">MAX</text><line x1="-6.5" y1="-2.7" x2="-2.0" y2="-2.7" stroke="#231f20" stroke-width="0.95"/><text x="-0.90" y="0.00" font-size="10.6" text-anchor="start" textLength="10.60" lengthAdjust="spacingAndGlyphs">Fc</text></g>
<g transform="translate(479.60,266.00) rotate(-45)" fill="#231f20" stroke="#231f20" stroke-width="0.18"><text x="0.00" y="0.00" font-size="11.2" text-anchor="end" textLength="53.80" lengthAdjust="spacingAndGlyphs">BC2-SNAG</text></g>
<g transform="translate(624.60,266.00) rotate(-45)" fill="#231f20" stroke="#231f20" stroke-width="0.18"><text x="0.00" y="0.00" font-size="11.2" text-anchor="end" textLength="53.80" lengthAdjust="spacingAndGlyphs">BC2-SNAG</text></g>
<g transform="translate(513.70,271.30) rotate(-45)" fill="#231f20" stroke="#231f20" stroke-width="0.18"><text x="0.00" y="0.00" font-size="11.2" text-anchor="end" textLength="53.80" lengthAdjust="spacingAndGlyphs">BC2-SNAG</text><text x="-0.50" y="-4.80" font-size="7.2" text-anchor="start">Fc</text></g>
<g transform="translate(658.70,271.30) rotate(-45)" fill="#231f20" stroke="#231f20" stroke-width="0.18"><text x="0.00" y="0.00" font-size="11.2" text-anchor="end" textLength="53.80" lengthAdjust="spacingAndGlyphs">BC2-SNAG</text><text x="-0.50" y="-4.80" font-size="7.2" text-anchor="start">Fc</text></g>
<text x="1.00" y="341.70" font-size="14.8" fill="#000" text-anchor="start" font-weight="bold" font-style="normal" stroke="#000" stroke-width="0.6">d</text>
<line x1="37.50" y1="397.50" x2="37.50" y2="612.70" stroke="#777" stroke-width="1.0" />
<line x1="31.50" y1="612.70" x2="37.50" y2="612.70" stroke="#777" stroke-width="1.0" />
<text x="27.70" y="616.10" font-size="9.5" fill="#2a2a2a" text-anchor="end" font-weight="normal" font-style="normal"  stroke="#2a2a2a" stroke-width="0.22">0</text>
<line x1="31.50" y1="558.90" x2="37.50" y2="558.90" stroke="#777" stroke-width="1.0" />
<text x="27.70" y="562.30" font-size="9.5" fill="#2a2a2a" text-anchor="end" font-weight="normal" font-style="normal"  stroke="#2a2a2a" stroke-width="0.22">2</text>
<line x1="31.50" y1="505.10" x2="37.50" y2="505.10" stroke="#777" stroke-width="1.0" />
<text x="27.70" y="508.50" font-size="9.5" fill="#2a2a2a" text-anchor="end" font-weight="normal" font-style="normal"  stroke="#2a2a2a" stroke-width="0.22">4</text>
<line x1="31.50" y1="451.30" x2="37.50" y2="451.30" stroke="#777" stroke-width="1.0" />
<text x="27.70" y="454.70" font-size="9.5" fill="#2a2a2a" text-anchor="end" font-weight="normal" font-style="normal"  stroke="#2a2a2a" stroke-width="0.22">6</text>
<line x1="31.50" y1="397.50" x2="37.50" y2="397.50" stroke="#777" stroke-width="1.0" />
<text x="27.70" y="400.90" font-size="9.5" fill="#2a2a2a" text-anchor="end" font-weight="normal" font-style="normal"  stroke="#2a2a2a" stroke-width="0.22">8</text>
<text transform="translate(12.00,505.20) rotate(-90)" x="0" y="0" font-size="10.8" fill="#231f20" stroke="#231f20" stroke-width="0.2" text-anchor="middle" textLength="150.80" lengthAdjust="spacingAndGlyphs">Notch activation (fold change)</text>
<line x1="31.50" y1="613.00" x2="317.80" y2="613.00" stroke="#777" stroke-width="1.0" />
<line x1="178.50" y1="330.90" x2="178.50" y2="612.50" stroke="#2a2a2a" stroke-width="1.1" stroke-dasharray="4.8 2.5"/>
<text x="96.30" y="347.30" font-size="10.9" fill="#231f20" text-anchor="middle" font-weight="normal" font-style="normal" textLength="37.60" lengthAdjust="spacingAndGlyphs"  stroke="#231f20" stroke-width="0.22">N1 cells</text>
<text x="206.00" y="346.80" font-size="10.9" fill="#231f20" text-anchor="start" font-weight="normal" font-style="normal" textLength="97.60" lengthAdjust="spacingAndGlyphs"  stroke="#231f20" stroke-width="0.22">N1 cells + JAG1 cells</text>
<rect x="39.20" y="586.50" width="16.00" height="26.90" rx="0" fill="#bdbdbd" stroke="#6a6a6a" stroke-width="0.8" />
<line x1="39.00" y1="586.50" x2="55.40" y2="586.50" stroke="#111" stroke-width="0.9" />
<rect x="62.60" y="585.69" width="15.60" height="27.71" rx="0" fill="#5c5c5c" stroke="#262626" stroke-width="0.8" />
<line x1="62.40" y1="585.69" x2="78.40" y2="585.69" stroke="#111" stroke-width="0.9" />
<rect x="80.60" y="574.66" width="15.60" height="38.74" rx="0" fill="#5c5c5c" stroke="#262626" stroke-width="0.8" />
<line x1="80.40" y1="574.66" x2="96.40" y2="574.66" stroke="#111" stroke-width="0.9" />
<rect x="98.70" y="551.80" width="15.80" height="61.60" rx="0" fill="#5c5c5c" stroke="#262626" stroke-width="0.8" />
<line x1="98.50" y1="551.80" x2="114.70" y2="551.80" stroke="#111" stroke-width="0.9" />
<rect x="122.30" y="584.62" width="15.60" height="28.78" rx="0" fill="#961100" stroke="#5a1008" stroke-width="0.8" />
<line x1="122.10" y1="584.62" x2="138.10" y2="584.62" stroke="#111" stroke-width="0.9" />
<rect x="140.50" y="579.78" width="15.70" height="33.62" rx="0" fill="#961100" stroke="#5a1008" stroke-width="0.8" />
<line x1="140.30" y1="579.78" x2="156.40" y2="579.78" stroke="#111" stroke-width="0.9" />
<rect x="158.80" y="576.01" width="15.40" height="37.39" rx="0" fill="#961100" stroke="#5a1008" stroke-width="0.8" />
<line x1="158.60" y1="576.01" x2="174.40" y2="576.01" stroke="#111" stroke-width="0.9" />
<rect x="181.60" y="565.79" width="16.10" height="47.61" rx="0" fill="#bdbdbd" stroke="#6a6a6a" stroke-width="0.8" />
<line x1="181.40" y1="565.79" x2="197.90" y2="565.79" stroke="#111" stroke-width="0.9" />
<rect x="205.20" y="566.59" width="15.80" height="46.81" rx="0" fill="#5c5c5c" stroke="#262626" stroke-width="0.8" />
<line x1="205.00" y1="566.59" x2="221.20" y2="566.59" stroke="#111" stroke-width="0.9" />
<rect x="223.80" y="577.89" width="15.30" height="35.51" rx="0" fill="#5c5c5c" stroke="#262626" stroke-width="0.8" />
<line x1="223.60" y1="577.89" x2="239.30" y2="577.89" stroke="#111" stroke-width="0.9" />
<rect x="241.90" y="579.24" width="15.40" height="34.16" rx="0" fill="#5c5c5c" stroke="#262626" stroke-width="0.8" />
<line x1="241.70" y1="579.24" x2="257.50" y2="579.24" stroke="#111" stroke-width="0.9" />
<rect x="264.80" y="564.44" width="15.80" height="48.96" rx="0" fill="#961100" stroke="#5a1008" stroke-width="0.8" />
<line x1="264.60" y1="564.44" x2="280.80" y2="564.44" stroke="#111" stroke-width="0.9" />
<rect x="283.40" y="507.41" width="15.30" height="105.99" rx="0" fill="#961100" stroke="#5a1008" stroke-width="0.8" />
<line x1="283.20" y1="507.41" x2="298.90" y2="507.41" stroke="#111" stroke-width="0.9" />
<rect x="301.50" y="504.19" width="15.80" height="109.21" rx="0" fill="#961100" stroke="#5a1008" stroke-width="0.8" />
<line x1="301.30" y1="504.19" x2="317.50" y2="504.19" stroke="#111" stroke-width="0.9" />
<circle cx="41.15" cy="585.30" r="2.2" fill="none" stroke="#111" stroke-width="0.75"/>
<circle cx="47.20" cy="584.50" r="2.2" fill="none" stroke="#111" stroke-width="0.75"/>
<circle cx="53.25" cy="585.70" r="2.2" fill="none" stroke="#111" stroke-width="0.75"/>
<line x1="47.20" y1="585.16" x2="47.20" y2="587.58" stroke="#111" stroke-width="0.7" />
<line x1="44.34" y1="585.16" x2="50.06" y2="585.16" stroke="#111" stroke-width="0.7" />
<line x1="44.34" y1="587.58" x2="50.06" y2="587.58" stroke="#111" stroke-width="0.7" />
<circle cx="64.50" cy="585.09" r="2.2" fill="none" stroke="#111" stroke-width="0.75"/>
<circle cx="70.40" cy="583.89" r="2.2" fill="none" stroke="#111" stroke-width="0.75"/>
<circle cx="76.30" cy="584.29" r="2.2" fill="none" stroke="#111" stroke-width="0.75"/>
<line x1="70.40" y1="584.35" x2="70.40" y2="586.77" stroke="#111" stroke-width="0.7" />
<line x1="67.61" y1="584.35" x2="73.19" y2="584.35" stroke="#111" stroke-width="0.7" />
<line x1="67.61" y1="586.77" x2="73.19" y2="586.77" stroke="#111" stroke-width="0.7" />
<circle cx="82.50" cy="573.06" r="2.2" fill="none" stroke="#111" stroke-width="0.75"/>
<circle cx="88.40" cy="573.76" r="2.2" fill="none" stroke="#111" stroke-width="0.75"/>
<circle cx="94.30" cy="572.56" r="2.2" fill="none" stroke="#111" stroke-width="0.75"/>
<line x1="88.40" y1="573.32" x2="88.40" y2="575.74" stroke="#111" stroke-width="0.7" />
<line x1="85.61" y1="573.32" x2="91.19" y2="573.32" stroke="#111" stroke-width="0.7" />
<line x1="85.61" y1="575.74" x2="91.19" y2="575.74" stroke="#111" stroke-width="0.7" />
<circle cx="102.50" cy="547.76" r="2.2" fill="none" stroke="#111" stroke-width="0.75"/>
<circle cx="111.30" cy="548.84" r="2.2" fill="none" stroke="#111" stroke-width="0.75"/>
<circle cx="106.60" cy="557.72" r="2.2" fill="none" stroke="#111" stroke-width="0.75"/>
<line x1="106.60" y1="546.15" x2="106.60" y2="557.72" stroke="#111" stroke-width="0.7" />
<line x1="103.60" y1="546.15" x2="109.60" y2="546.15" stroke="#111" stroke-width="0.7" />
<line x1="103.60" y1="557.72" x2="109.60" y2="557.72" stroke="#111" stroke-width="0.7" />
<circle cx="124.20" cy="583.72" r="2.2" fill="none" stroke="#111" stroke-width="0.75"/>
<circle cx="130.10" cy="582.42" r="2.2" fill="none" stroke="#111" stroke-width="0.75"/>
<circle cx="136.00" cy="583.52" r="2.2" fill="none" stroke="#111" stroke-width="0.75"/>
<line x1="130.10" y1="583.27" x2="130.10" y2="585.69" stroke="#111" stroke-width="0.7" />
<line x1="127.31" y1="583.27" x2="132.89" y2="583.27" stroke="#111" stroke-width="0.7" />
<line x1="127.31" y1="585.69" x2="132.89" y2="585.69" stroke="#111" stroke-width="0.7" />
<circle cx="142.41" cy="577.88" r="2.2" fill="none" stroke="#111" stroke-width="0.75"/>
<circle cx="148.35" cy="578.58" r="2.2" fill="none" stroke="#111" stroke-width="0.75"/>
<circle cx="154.29" cy="579.08" r="2.2" fill="none" stroke="#111" stroke-width="0.75"/>
<line x1="148.35" y1="578.43" x2="148.35" y2="580.85" stroke="#111" stroke-width="0.7" />
<line x1="145.54" y1="578.43" x2="151.16" y2="578.43" stroke="#111" stroke-width="0.7" />
<line x1="145.54" y1="580.85" x2="151.16" y2="580.85" stroke="#111" stroke-width="0.7" />
<circle cx="160.67" cy="574.81" r="2.2" fill="none" stroke="#111" stroke-width="0.75"/>
<circle cx="166.50" cy="574.01" r="2.2" fill="none" stroke="#111" stroke-width="0.75"/>
<circle cx="172.33" cy="575.21" r="2.2" fill="none" stroke="#111" stroke-width="0.75"/>
<line x1="166.50" y1="574.66" x2="166.50" y2="577.09" stroke="#111" stroke-width="0.7" />
<line x1="163.75" y1="574.66" x2="169.25" y2="574.66" stroke="#111" stroke-width="0.7" />
<line x1="163.75" y1="577.09" x2="169.25" y2="577.09" stroke="#111" stroke-width="0.7" />
<circle cx="185.45" cy="563.10" r="2.2" fill="none" stroke="#111" stroke-width="0.75"/>
<circle cx="185.45" cy="569.02" r="2.2" fill="none" stroke="#111" stroke-width="0.75"/>
<circle cx="193.55" cy="564.44" r="2.2" fill="none" stroke="#111" stroke-width="0.75"/>
<circle cx="189.65" cy="564.98" r="2.2" fill="none" stroke="#111" stroke-width="0.75"/>
<line x1="189.65" y1="562.83" x2="189.65" y2="568.75" stroke="#111" stroke-width="0.7" />
<line x1="186.65" y1="562.83" x2="192.65" y2="562.83" stroke="#111" stroke-width="0.7" />
<line x1="186.65" y1="568.75" x2="192.65" y2="568.75" stroke="#111" stroke-width="0.7" />
<circle cx="208.90" cy="563.64" r="2.2" fill="none" stroke="#111" stroke-width="0.75"/>
<circle cx="208.90" cy="568.48" r="2.2" fill="none" stroke="#111" stroke-width="0.75"/>
<circle cx="217.10" cy="564.98" r="2.2" fill="none" stroke="#111" stroke-width="0.75"/>
<line x1="213.10" y1="563.90" x2="213.10" y2="568.75" stroke="#111" stroke-width="0.7" />
<line x1="210.10" y1="563.90" x2="216.10" y2="563.90" stroke="#111" stroke-width="0.7" />
<line x1="210.10" y1="568.75" x2="216.10" y2="568.75" stroke="#111" stroke-width="0.7" />
<circle cx="225.65" cy="577.29" r="2.2" fill="none" stroke="#111" stroke-width="0.75"/>
<circle cx="231.45" cy="576.09" r="2.2" fill="none" stroke="#111" stroke-width="0.75"/>
<circle cx="237.25" cy="576.49" r="2.2" fill="none" stroke="#111" stroke-width="0.75"/>
<line x1="231.45" y1="576.55" x2="231.45" y2="578.97" stroke="#111" stroke-width="0.7" />
<line x1="228.71" y1="576.55" x2="234.19" y2="576.55" stroke="#111" stroke-width="0.7" />
<line x1="228.71" y1="578.97" x2="234.19" y2="578.97" stroke="#111" stroke-width="0.7" />
<circle cx="243.77" cy="577.64" r="2.2" fill="none" stroke="#111" stroke-width="0.75"/>
<circle cx="249.60" cy="578.34" r="2.2" fill="none" stroke="#111" stroke-width="0.75"/>
<circle cx="255.43" cy="577.14" r="2.2" fill="none" stroke="#111" stroke-width="0.75"/>
<line x1="249.60" y1="577.89" x2="249.60" y2="580.31" stroke="#111" stroke-width="0.7" />
<line x1="246.85" y1="577.89" x2="252.35" y2="577.89" stroke="#111" stroke-width="0.7" />
<line x1="246.85" y1="580.31" x2="252.35" y2="580.31" stroke="#111" stroke-width="0.7" />
<circle cx="266.72" cy="563.54" r="2.2" fill="none" stroke="#111" stroke-width="0.75"/>
<circle cx="272.70" cy="562.24" r="2.2" fill="none" stroke="#111" stroke-width="0.75"/>
<circle cx="278.68" cy="563.34" r="2.2" fill="none" stroke="#111" stroke-width="0.75"/>
<line x1="272.70" y1="563.10" x2="272.70" y2="565.52" stroke="#111" stroke-width="0.7" />
<line x1="269.88" y1="563.10" x2="275.52" y2="563.10" stroke="#111" stroke-width="0.7" />
<line x1="269.88" y1="565.52" x2="275.52" y2="565.52" stroke="#111" stroke-width="0.7" />
<circle cx="284.65" cy="510.64" r="2.2" fill="none" stroke="#111" stroke-width="0.75"/>
<circle cx="291.05" cy="505.80" r="2.2" fill="none" stroke="#111" stroke-width="0.75"/>
<circle cx="297.55" cy="505.53" r="2.2" fill="none" stroke="#111" stroke-width="0.75"/>
<line x1="291.05" y1="505.26" x2="291.05" y2="510.37" stroke="#111" stroke-width="0.7" />
<line x1="287.55" y1="505.26" x2="294.55" y2="505.26" stroke="#111" stroke-width="0.7" />
<line x1="287.55" y1="510.37" x2="294.55" y2="510.37" stroke="#111" stroke-width="0.7" />
<circle cx="309.30" cy="495.31" r="2.2" fill="none" stroke="#111" stroke-width="0.75"/>
<circle cx="309.30" cy="500.69" r="2.2" fill="none" stroke="#111" stroke-width="0.75"/>
<circle cx="309.30" cy="516.83" r="2.2" fill="none" stroke="#111" stroke-width="0.75"/>
<line x1="309.40" y1="493.70" x2="309.40" y2="514.95" stroke="#111" stroke-width="0.7" />
<line x1="305.20" y1="493.70" x2="313.60" y2="493.70" stroke="#111" stroke-width="0.7" />
<line x1="305.20" y1="514.95" x2="313.60" y2="514.95" stroke="#111" stroke-width="0.7" />
<polygon points="61.60,625.60 114.80,625.60 114.80,614.20 61.60,623.80" fill="#03080c" stroke="#12303e" stroke-width="0.4" stroke-linejoin="round"/>
<polygon points="121.30,625.60 174.50,625.60 174.50,614.20 121.30,623.80" fill="#03080c" stroke="#12303e" stroke-width="0.4" stroke-linejoin="round"/>
<polygon points="204.20,625.60 257.60,625.60 257.60,614.20 204.20,623.80" fill="#03080c" stroke="#12303e" stroke-width="0.4" stroke-linejoin="round"/>
<polygon points="263.80,625.60 317.60,625.60 317.60,614.20 263.80,623.80" fill="#03080c" stroke="#12303e" stroke-width="0.4" stroke-linejoin="round"/>
<line x1="249.00" y1="432.00" x2="309.50" y2="432.00" stroke="#5e5e5e" stroke-width="1.0" />
<text x="279.95" y="427.50" font-size="10.2" fill="#333" text-anchor="middle" font-weight="normal" font-style="normal" textLength="28.70" lengthAdjust="spacingAndGlyphs"  stroke="#333" stroke-width="0.22">0.0123</text>
<line x1="230.80" y1="455.50" x2="291.20" y2="455.50" stroke="#5e5e5e" stroke-width="1.0" />
<text x="262.85" y="451.60" font-size="10.2" fill="#333" text-anchor="middle" font-weight="normal" font-style="normal" textLength="33.10" lengthAdjust="spacingAndGlyphs"  stroke="#333" stroke-width="0.22">0.0008</text>
<line x1="212.70" y1="478.50" x2="273.00" y2="478.50" stroke="#5e5e5e" stroke-width="1.0" />
<text x="244.25" y="473.90" font-size="10.2" fill="#333" text-anchor="middle" font-weight="normal" font-style="normal" textLength="31.70" lengthAdjust="spacingAndGlyphs"  stroke="#333" stroke-width="0.22">0.2890</text>
<g transform="translate(52.10,622.30) rotate(-45)" fill="#231f20" stroke="#231f20" stroke-width="0.18"><text x="0.00" y="0.00" font-size="11.0" text-anchor="end">Control</text></g>
<g transform="translate(195.60,622.50) rotate(-45)" fill="#231f20" stroke="#231f20" stroke-width="0.18"><text x="0.00" y="0.00" font-size="11.0" text-anchor="end">Control</text></g>
<g transform="translate(86.70,645.20) rotate(-45)" fill="#231f20" stroke="#231f20" stroke-width="0.18"><text x="-47.50" y="0.00" font-size="11.0" text-anchor="start" textLength="25.00" lengthAdjust="spacingAndGlyphs">Delta</text><text x="-21.30" y="-4.90" font-size="6.6" text-anchor="start" textLength="14.00" lengthAdjust="spacingAndGlyphs">MAX</text><line x1="-6.5" y1="-2.7" x2="-2.0" y2="-2.7" stroke="#231f20" stroke-width="0.95"/><text x="-0.90" y="0.00" font-size="10.6" text-anchor="start" textLength="10.60" lengthAdjust="spacingAndGlyphs">Fc</text></g>
<g transform="translate(229.60,641.70) rotate(-45)" fill="#231f20" stroke="#231f20" stroke-width="0.18"><text x="-47.50" y="0.00" font-size="11.0" text-anchor="start" textLength="25.00" lengthAdjust="spacingAndGlyphs">Delta</text><text x="-21.30" y="-4.90" font-size="6.6" text-anchor="start" textLength="14.00" lengthAdjust="spacingAndGlyphs">MAX</text><line x1="-6.5" y1="-2.7" x2="-2.0" y2="-2.7" stroke="#231f20" stroke-width="0.95"/><text x="-0.90" y="0.00" font-size="10.6" text-anchor="start" textLength="10.60" lengthAdjust="spacingAndGlyphs">Fc</text></g>
<g transform="translate(146.50,643.20) rotate(-45)" fill="#231f20" stroke="#231f20" stroke-width="0.18"><text x="0.00" y="0.00" font-size="11.2" text-anchor="end" textLength="57.50" lengthAdjust="spacingAndGlyphs">JAG1-SNAG</text><text x="-0.50" y="-4.80" font-size="7.2" text-anchor="start">Fc</text></g>
<g transform="translate(293.30,643.50) rotate(-45)" fill="#231f20" stroke="#231f20" stroke-width="0.18"><text x="0.00" y="0.00" font-size="11.2" text-anchor="end" textLength="57.50" lengthAdjust="spacingAndGlyphs">JAG1-SNAG</text><text x="-0.50" y="-4.80" font-size="7.2" text-anchor="start">Fc</text></g>
<text x="359.80" y="342.30" font-size="14.8" fill="#000" text-anchor="start" font-weight="bold" font-style="normal" stroke="#000" stroke-width="0.6">e</text>
<line x1="392.50" y1="397.40" x2="392.50" y2="612.40" stroke="#777" stroke-width="1.0" />
<line x1="387.00" y1="612.40" x2="392.50" y2="612.40" stroke="#777" stroke-width="1.0" />
<text x="383.20" y="615.80" font-size="9.5" fill="#2a2a2a" text-anchor="end" font-weight="normal" font-style="normal"  stroke="#2a2a2a" stroke-width="0.22">0</text>
<line x1="387.00" y1="558.65" x2="392.50" y2="558.65" stroke="#777" stroke-width="1.0" />
<text x="383.20" y="562.05" font-size="9.5" fill="#2a2a2a" text-anchor="end" font-weight="normal" font-style="normal"  stroke="#2a2a2a" stroke-width="0.22">2</text>
<line x1="387.00" y1="504.90" x2="392.50" y2="504.90" stroke="#777" stroke-width="1.0" />
<text x="383.20" y="508.30" font-size="9.5" fill="#2a2a2a" text-anchor="end" font-weight="normal" font-style="normal"  stroke="#2a2a2a" stroke-width="0.22">4</text>
<line x1="387.00" y1="451.15" x2="392.50" y2="451.15" stroke="#777" stroke-width="1.0" />
<text x="383.20" y="454.55" font-size="9.5" fill="#2a2a2a" text-anchor="end" font-weight="normal" font-style="normal"  stroke="#2a2a2a" stroke-width="0.22">6</text>
<line x1="387.00" y1="397.40" x2="392.50" y2="397.40" stroke="#777" stroke-width="1.0" />
<text x="383.20" y="400.80" font-size="9.5" fill="#2a2a2a" text-anchor="end" font-weight="normal" font-style="normal"  stroke="#2a2a2a" stroke-width="0.22">8</text>
<text transform="translate(369.00,504.50) rotate(-90)" x="0" y="0" font-size="10.8" fill="#231f20" stroke="#231f20" stroke-width="0.2" text-anchor="middle" textLength="151.30" lengthAdjust="spacingAndGlyphs">Notch activation (fold change)</text>
<line x1="387.00" y1="612.50" x2="674.80" y2="612.50" stroke="#777" stroke-width="1.0" />
<line x1="534.50" y1="330.90" x2="534.50" y2="612.20" stroke="#2a2a2a" stroke-width="1.1" stroke-dasharray="4.8 2.5"/>
<text x="457.40" y="346.80" font-size="10.9" fill="#231f20" text-anchor="middle" font-weight="normal" font-style="normal" textLength="37.20" lengthAdjust="spacingAndGlyphs"  stroke="#231f20" stroke-width="0.22">N1 cells</text>
<text x="549.10" y="346.30" font-size="10.9" fill="#231f20" text-anchor="start" font-weight="normal" font-style="normal" textLength="136.00" lengthAdjust="spacingAndGlyphs"  stroke="#231f20" stroke-width="0.22">N1 cells + JAG1-H268Q cells</text>
<rect x="394.50" y="586.23" width="15.90" height="26.88" rx="0" fill="#bdbdbd" stroke="#6a6a6a" stroke-width="0.8" />
<line x1="394.30" y1="586.23" x2="410.60" y2="586.23" stroke="#111" stroke-width="0.9" />
<rect x="418.10" y="585.69" width="15.90" height="27.41" rx="0" fill="#5c5c5c" stroke="#262626" stroke-width="0.8" />
<line x1="417.90" y1="585.69" x2="434.20" y2="585.69" stroke="#111" stroke-width="0.9" />
<rect x="436.70" y="576.28" width="15.40" height="36.82" rx="0" fill="#5c5c5c" stroke="#262626" stroke-width="0.8" />
<line x1="436.50" y1="576.28" x2="452.30" y2="576.28" stroke="#111" stroke-width="0.9" />
<rect x="454.90" y="554.78" width="15.80" height="58.32" rx="0" fill="#5c5c5c" stroke="#262626" stroke-width="0.8" />
<line x1="454.70" y1="554.78" x2="470.90" y2="554.78" stroke="#111" stroke-width="0.9" />
<rect x="478.70" y="584.61" width="15.30" height="28.49" rx="0" fill="#961100" stroke="#5a1008" stroke-width="0.8" />
<line x1="478.50" y1="584.61" x2="494.20" y2="584.61" stroke="#111" stroke-width="0.9" />
<rect x="496.80" y="570.10" width="15.80" height="43.00" rx="0" fill="#961100" stroke="#5a1008" stroke-width="0.8" />
<line x1="496.60" y1="570.10" x2="512.80" y2="570.10" stroke="#111" stroke-width="0.9" />
<rect x="514.90" y="549.14" width="15.10" height="63.96" rx="0" fill="#961100" stroke="#5a1008" stroke-width="0.8" />
<line x1="514.70" y1="549.14" x2="530.20" y2="549.14" stroke="#111" stroke-width="0.9" />
<rect x="538.50" y="566.61" width="15.80" height="46.49" rx="0" fill="#bdbdbd" stroke="#6a6a6a" stroke-width="0.8" />
<line x1="538.30" y1="566.61" x2="554.50" y2="566.61" stroke="#111" stroke-width="0.9" />
<rect x="561.80" y="565.53" width="15.60" height="47.57" rx="0" fill="#5c5c5c" stroke="#262626" stroke-width="0.8" />
<line x1="561.60" y1="565.53" x2="577.60" y2="565.53" stroke="#111" stroke-width="0.9" />
<rect x="580.40" y="551.56" width="15.60" height="61.54" rx="0" fill="#5c5c5c" stroke="#262626" stroke-width="0.8" />
<line x1="580.20" y1="551.56" x2="596.20" y2="551.56" stroke="#111" stroke-width="0.9" />
<rect x="598.50" y="552.90" width="15.90" height="60.20" rx="0" fill="#5c5c5c" stroke="#262626" stroke-width="0.8" />
<line x1="598.30" y1="552.90" x2="614.60" y2="552.90" stroke="#111" stroke-width="0.9" />
<rect x="622.10" y="561.50" width="15.40" height="51.60" rx="0" fill="#961100" stroke="#5a1008" stroke-width="0.8" />
<line x1="621.90" y1="561.50" x2="637.70" y2="561.50" stroke="#111" stroke-width="0.9" />
<rect x="640.70" y="417.18" width="15.50" height="195.92" rx="0" fill="#961100" stroke="#5a1008" stroke-width="0.8" />
<line x1="640.50" y1="417.18" x2="656.40" y2="417.18" stroke="#111" stroke-width="0.9" />
<rect x="658.90" y="435.73" width="15.30" height="177.38" rx="0" fill="#961100" stroke="#5a1008" stroke-width="0.8" />
<line x1="658.70" y1="435.73" x2="674.40" y2="435.73" stroke="#111" stroke-width="0.9" />
<circle cx="396.44" cy="585.02" r="2.2" fill="none" stroke="#111" stroke-width="0.75"/>
<circle cx="402.45" cy="584.23" r="2.2" fill="none" stroke="#111" stroke-width="0.75"/>
<circle cx="408.46" cy="585.43" r="2.2" fill="none" stroke="#111" stroke-width="0.75"/>
<line x1="402.45" y1="584.88" x2="402.45" y2="587.30" stroke="#111" stroke-width="0.7" />
<line x1="399.61" y1="584.88" x2="405.29" y2="584.88" stroke="#111" stroke-width="0.7" />
<line x1="399.61" y1="587.30" x2="405.29" y2="587.30" stroke="#111" stroke-width="0.7" />
<circle cx="420.04" cy="585.09" r="2.2" fill="none" stroke="#111" stroke-width="0.75"/>
<circle cx="426.05" cy="583.89" r="2.2" fill="none" stroke="#111" stroke-width="0.75"/>
<circle cx="432.06" cy="584.29" r="2.2" fill="none" stroke="#111" stroke-width="0.75"/>
<line x1="426.05" y1="584.34" x2="426.05" y2="586.76" stroke="#111" stroke-width="0.7" />
<line x1="423.21" y1="584.34" x2="428.89" y2="584.34" stroke="#111" stroke-width="0.7" />
<line x1="423.21" y1="586.76" x2="428.89" y2="586.76" stroke="#111" stroke-width="0.7" />
<circle cx="438.57" cy="574.68" r="2.2" fill="none" stroke="#111" stroke-width="0.75"/>
<circle cx="444.40" cy="575.38" r="2.2" fill="none" stroke="#111" stroke-width="0.75"/>
<circle cx="450.23" cy="574.18" r="2.2" fill="none" stroke="#111" stroke-width="0.75"/>
<line x1="444.40" y1="574.94" x2="444.40" y2="577.36" stroke="#111" stroke-width="0.7" />
<line x1="441.65" y1="574.94" x2="447.15" y2="574.94" stroke="#111" stroke-width="0.7" />
<line x1="441.65" y1="577.36" x2="447.15" y2="577.36" stroke="#111" stroke-width="0.7" />
<circle cx="456.82" cy="553.88" r="2.2" fill="none" stroke="#111" stroke-width="0.75"/>
<circle cx="462.80" cy="552.58" r="2.2" fill="none" stroke="#111" stroke-width="0.75"/>
<circle cx="468.78" cy="553.68" r="2.2" fill="none" stroke="#111" stroke-width="0.75"/>
<line x1="462.80" y1="553.44" x2="462.80" y2="555.86" stroke="#111" stroke-width="0.7" />
<line x1="459.98" y1="553.44" x2="465.62" y2="553.44" stroke="#111" stroke-width="0.7" />
<line x1="459.98" y1="555.86" x2="465.62" y2="555.86" stroke="#111" stroke-width="0.7" />
<circle cx="480.55" cy="582.71" r="2.2" fill="none" stroke="#111" stroke-width="0.75"/>
<circle cx="486.35" cy="583.41" r="2.2" fill="none" stroke="#111" stroke-width="0.75"/>
<circle cx="492.15" cy="583.91" r="2.2" fill="none" stroke="#111" stroke-width="0.75"/>
<line x1="486.35" y1="583.27" x2="486.35" y2="585.69" stroke="#111" stroke-width="0.7" />
<line x1="483.61" y1="583.27" x2="489.09" y2="583.27" stroke="#111" stroke-width="0.7" />
<line x1="483.61" y1="585.69" x2="489.09" y2="585.69" stroke="#111" stroke-width="0.7" />
<circle cx="498.72" cy="568.90" r="2.2" fill="none" stroke="#111" stroke-width="0.75"/>
<circle cx="504.70" cy="568.10" r="2.2" fill="none" stroke="#111" stroke-width="0.75"/>
<circle cx="510.68" cy="569.30" r="2.2" fill="none" stroke="#111" stroke-width="0.75"/>
<line x1="504.70" y1="568.76" x2="504.70" y2="571.18" stroke="#111" stroke-width="0.7" />
<line x1="501.88" y1="568.76" x2="507.52" y2="568.76" stroke="#111" stroke-width="0.7" />
<line x1="501.88" y1="571.18" x2="507.52" y2="571.18" stroke="#111" stroke-width="0.7" />
<circle cx="517.95" cy="544.84" r="2.2" fill="none" stroke="#111" stroke-width="0.75"/>
<circle cx="526.25" cy="545.38" r="2.2" fill="none" stroke="#111" stroke-width="0.75"/>
<circle cx="522.45" cy="552.90" r="2.2" fill="none" stroke="#111" stroke-width="0.75"/>
<line x1="522.45" y1="544.84" x2="522.45" y2="552.90" stroke="#111" stroke-width="0.7" />
<line x1="519.45" y1="544.84" x2="525.45" y2="544.84" stroke="#111" stroke-width="0.7" />
<line x1="519.45" y1="552.90" x2="525.45" y2="552.90" stroke="#111" stroke-width="0.7" />
<circle cx="540.42" cy="566.01" r="2.2" fill="none" stroke="#111" stroke-width="0.75"/>
<circle cx="546.40" cy="564.81" r="2.2" fill="none" stroke="#111" stroke-width="0.75"/>
<circle cx="552.38" cy="565.21" r="2.2" fill="none" stroke="#111" stroke-width="0.75"/>
<line x1="546.40" y1="565.26" x2="546.40" y2="567.68" stroke="#111" stroke-width="0.7" />
<line x1="543.58" y1="565.26" x2="549.22" y2="565.26" stroke="#111" stroke-width="0.7" />
<line x1="543.58" y1="567.68" x2="549.22" y2="567.68" stroke="#111" stroke-width="0.7" />
<circle cx="563.70" cy="563.93" r="2.2" fill="none" stroke="#111" stroke-width="0.75"/>
<circle cx="569.60" cy="564.63" r="2.2" fill="none" stroke="#111" stroke-width="0.75"/>
<circle cx="575.50" cy="563.43" r="2.2" fill="none" stroke="#111" stroke-width="0.75"/>
<line x1="569.60" y1="564.19" x2="569.60" y2="566.61" stroke="#111" stroke-width="0.7" />
<line x1="566.81" y1="564.19" x2="572.39" y2="564.19" stroke="#111" stroke-width="0.7" />
<line x1="566.81" y1="566.61" x2="572.39" y2="566.61" stroke="#111" stroke-width="0.7" />
<circle cx="582.30" cy="550.66" r="2.2" fill="none" stroke="#111" stroke-width="0.75"/>
<circle cx="588.20" cy="549.36" r="2.2" fill="none" stroke="#111" stroke-width="0.75"/>
<circle cx="594.10" cy="550.46" r="2.2" fill="none" stroke="#111" stroke-width="0.75"/>
<line x1="588.20" y1="550.21" x2="588.20" y2="552.63" stroke="#111" stroke-width="0.7" />
<line x1="585.41" y1="550.21" x2="590.99" y2="550.21" stroke="#111" stroke-width="0.7" />
<line x1="585.41" y1="552.63" x2="590.99" y2="552.63" stroke="#111" stroke-width="0.7" />
<circle cx="600.44" cy="551.00" r="2.2" fill="none" stroke="#111" stroke-width="0.75"/>
<circle cx="606.45" cy="551.70" r="2.2" fill="none" stroke="#111" stroke-width="0.75"/>
<circle cx="612.46" cy="552.20" r="2.2" fill="none" stroke="#111" stroke-width="0.75"/>
<line x1="606.45" y1="551.56" x2="606.45" y2="553.98" stroke="#111" stroke-width="0.7" />
<line x1="603.61" y1="551.56" x2="609.29" y2="551.56" stroke="#111" stroke-width="0.7" />
<line x1="603.61" y1="553.98" x2="609.29" y2="553.98" stroke="#111" stroke-width="0.7" />
<circle cx="623.97" cy="560.30" r="2.2" fill="none" stroke="#111" stroke-width="0.75"/>
<circle cx="629.80" cy="559.50" r="2.2" fill="none" stroke="#111" stroke-width="0.75"/>
<circle cx="635.63" cy="560.70" r="2.2" fill="none" stroke="#111" stroke-width="0.75"/>
<line x1="629.80" y1="560.16" x2="629.80" y2="562.58" stroke="#111" stroke-width="0.7" />
<line x1="627.05" y1="560.16" x2="632.55" y2="560.16" stroke="#111" stroke-width="0.7" />
<line x1="627.05" y1="562.58" x2="632.55" y2="562.58" stroke="#111" stroke-width="0.7" />
<circle cx="643.45" cy="411.54" r="2.2" fill="none" stroke="#111" stroke-width="0.75"/>
<circle cx="652.85" cy="415.57" r="2.2" fill="none" stroke="#111" stroke-width="0.75"/>
<circle cx="648.25" cy="422.29" r="2.2" fill="none" stroke="#111" stroke-width="0.75"/>
<line x1="648.45" y1="411.00" x2="648.45" y2="422.83" stroke="#111" stroke-width="0.7" />
<line x1="644.95" y1="411.00" x2="651.95" y2="411.00" stroke="#111" stroke-width="0.7" />
<line x1="644.95" y1="422.83" x2="651.95" y2="422.83" stroke="#111" stroke-width="0.7" />
<circle cx="662.05" cy="425.78" r="2.2" fill="none" stroke="#111" stroke-width="0.75"/>
<circle cx="669.95" cy="428.47" r="2.2" fill="none" stroke="#111" stroke-width="0.75"/>
<circle cx="666.55" cy="451.31" r="2.2" fill="none" stroke="#111" stroke-width="0.75"/>
<line x1="666.55" y1="421.75" x2="666.55" y2="449.70" stroke="#111" stroke-width="0.7" />
<line x1="663.05" y1="421.75" x2="670.05" y2="421.75" stroke="#111" stroke-width="0.7" />
<line x1="663.05" y1="449.70" x2="670.05" y2="449.70" stroke="#111" stroke-width="0.7" />
<polygon points="417.10,625.50 471.00,625.50 471.00,614.20 417.10,623.70" fill="#03080c" stroke="#12303e" stroke-width="0.4" stroke-linejoin="round"/>
<polygon points="477.70,625.50 530.30,625.50 530.30,614.20 477.70,623.70" fill="#03080c" stroke="#12303e" stroke-width="0.4" stroke-linejoin="round"/>
<polygon points="560.80,625.50 614.70,625.50 614.70,614.20 560.80,623.70" fill="#03080c" stroke="#12303e" stroke-width="0.4" stroke-linejoin="round"/>
<polygon points="621.10,625.50 674.50,625.50 674.50,614.20 621.10,623.70" fill="#03080c" stroke="#12303e" stroke-width="0.4" stroke-linejoin="round"/>
<line x1="606.20" y1="378.00" x2="666.60" y2="378.00" stroke="#5e5e5e" stroke-width="1.0" />
<text x="638.30" y="373.90" font-size="10.2" fill="#333" text-anchor="middle" font-weight="normal" font-style="normal" textLength="33.20" lengthAdjust="spacingAndGlyphs"  stroke="#333" stroke-width="0.22">0.0080</text>
<line x1="587.80" y1="402.50" x2="648.20" y2="402.50" stroke="#5e5e5e" stroke-width="1.0" />
<text x="619.90" y="398.80" font-size="10.2" fill="#333" text-anchor="middle" font-weight="normal" font-style="normal" textLength="33.20" lengthAdjust="spacingAndGlyphs"  stroke="#333" stroke-width="0.22">0.0009</text>
<line x1="569.40" y1="428.80" x2="629.80" y2="428.80" stroke="#5e5e5e" stroke-width="1.0" />
<text x="601.60" y="425.10" font-size="10.2" fill="#333" text-anchor="middle" font-weight="normal" font-style="normal" textLength="33.20" lengthAdjust="spacingAndGlyphs"  stroke="#333" stroke-width="0.22">0.0080</text>
<g transform="translate(409.20,622.30) rotate(-45)" fill="#231f20" stroke="#231f20" stroke-width="0.18"><text x="0.00" y="0.00" font-size="11.0" text-anchor="end">Control</text></g>
<g transform="translate(553.00,622.30) rotate(-45)" fill="#231f20" stroke="#231f20" stroke-width="0.18"><text x="0.00" y="0.00" font-size="11.0" text-anchor="end">Control</text></g>
<g transform="translate(444.60,645.20) rotate(-45)" fill="#231f20" stroke="#231f20" stroke-width="0.18"><text x="-47.50" y="0.00" font-size="11.0" text-anchor="start" textLength="25.00" lengthAdjust="spacingAndGlyphs">Delta</text><text x="-21.30" y="-4.90" font-size="6.6" text-anchor="start" textLength="14.00" lengthAdjust="spacingAndGlyphs">MAX</text><line x1="-6.5" y1="-2.7" x2="-2.0" y2="-2.7" stroke="#231f20" stroke-width="0.95"/><text x="-0.90" y="0.00" font-size="10.6" text-anchor="start" textLength="10.60" lengthAdjust="spacingAndGlyphs">Fc</text></g>
<g transform="translate(587.30,641.70) rotate(-45)" fill="#231f20" stroke="#231f20" stroke-width="0.18"><text x="-47.50" y="0.00" font-size="11.0" text-anchor="start" textLength="25.00" lengthAdjust="spacingAndGlyphs">Delta</text><text x="-21.30" y="-4.90" font-size="6.6" text-anchor="start" textLength="14.00" lengthAdjust="spacingAndGlyphs">MAX</text><line x1="-6.5" y1="-2.7" x2="-2.0" y2="-2.7" stroke="#231f20" stroke-width="0.95"/><text x="-0.90" y="0.00" font-size="10.6" text-anchor="start" textLength="10.60" lengthAdjust="spacingAndGlyphs">Fc</text></g>
<g transform="translate(504.10,643.30) rotate(-45)" fill="#231f20" stroke="#231f20" stroke-width="0.18"><text x="0.00" y="0.00" font-size="11.2" text-anchor="end" textLength="57.50" lengthAdjust="spacingAndGlyphs">JAG1-SNAG</text><text x="-0.50" y="-4.80" font-size="7.2" text-anchor="start">Fc</text></g>
<g transform="translate(652.10,640.70) rotate(-45)" fill="#231f20" stroke="#231f20" stroke-width="0.18"><text x="0.00" y="0.00" font-size="11.2" text-anchor="end" textLength="57.50" lengthAdjust="spacingAndGlyphs">JAG1-SNAG</text><text x="-0.50" y="-4.80" font-size="7.2" text-anchor="start">Fc</text></g>
</svg>
</body></html>
